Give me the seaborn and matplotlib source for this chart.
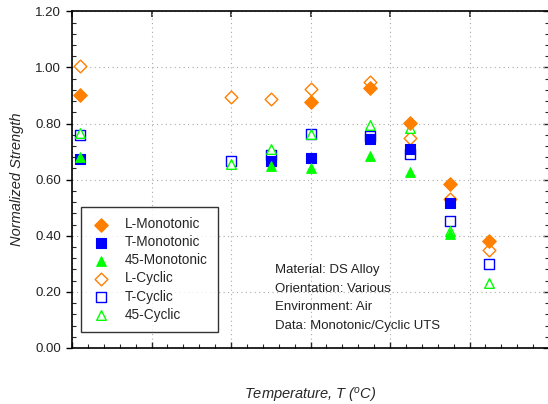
import numpy as np
import pandas as pd
import matplotlib
matplotlib.use("Agg")
import matplotlib.pyplot as plt
import seaborn as sns
from matplotlib.ticker import MultipleLocator, NullFormatter

# ---- data ----
temp_L_mono = [20, 600, 750, 850, 950, 1050]
val_L_mono = [0.903, 0.878, 0.928, 0.803, 0.586, 0.381]

temp_T_mono = [20, 500, 600, 750, 850, 950]
val_T_mono = [0.675, 0.668, 0.677, 0.746, 0.709, 0.518]

temp_45_mono = [20, 500, 600, 750, 850, 950]
val_45_mono = [0.682, 0.650, 0.643, 0.684, 0.627, 0.406]

temp_L_cyc = [20, 400, 500, 600, 750, 850, 950, 1050]
val_L_cyc = [1.006, 0.896, 0.887, 0.923, 0.949, 0.750, 0.530, 0.349]

temp_T_cyc = [20, 400, 500, 600, 750, 850, 950, 1050]
val_T_cyc = [0.759, 0.668, 0.688, 0.762, 0.756, 0.692, 0.453, 0.299]

temp_45_cyc = [20, 400, 500, 600, 750, 850, 950, 1050]
val_45_cyc = [0.765, 0.657, 0.709, 0.764, 0.795, 0.785, 0.418, 0.230]

info_lines = ["Material: DS Alloy", "Orientation: Various",
              "Environment: Air", "Data: Monotonic/Cyclic UTS"]

sns.set_style("white")
plt.rcParams['font.family'] = ['Liberation Sans', 'DejaVu Sans']
plt.rcParams['mathtext.fontset'] = 'custom'
plt.rcParams['mathtext.it'] = 'Liberation Sans:italic'
plt.rcParams['mathtext.rm'] = 'Liberation Sans:italic'

fig = plt.figure(figsize=(5.48, 4.04), dpi=100)
ax = fig.add_axes([72/548, 1-348/404, 477/548, (348-11.3)/404])

ORANGE = '#FF7F00'
BLUE = '#0000FF'
GREEN = '#00FF00'

series = [
    ("L-Cyclic", temp_L_cyc, val_L_cyc, 'D', ORANGE, False, 42),
    ("T-Cyclic", temp_T_cyc, val_T_cyc, 's', BLUE, False, 42),
    ("45-Cyclic", temp_45_cyc, val_45_cyc, '^', GREEN, False, 48),
    ("L-Monotonic", temp_L_mono, val_L_mono, 'D', ORANGE, True, 48),
    ("T-Monotonic", temp_T_mono, val_T_mono, 's', BLUE, True, 42),
    ("45-Monotonic", temp_45_mono, val_45_mono, '^', GREEN, True, 48),
]

for i, (name, xs, ys, mk, col, filled, size) in enumerate(series):
    df = pd.DataFrame({"T": xs, "v": ys})
    if filled:
        sns.scatterplot(data=df, x="T", y="v", ax=ax, marker=mk, s=size,
                        color=col, edgecolor=col, linewidth=0.8, label=name,
                        zorder=5 + i, clip_on=False)
    else:
        sns.scatterplot(data=df, x="T", y="v", ax=ax, marker=mk, s=size,
                        facecolor='white', edgecolor=col, linewidth=1.0,
                        label=name, zorder=5 + i, clip_on=False)

ax.set_xlim(0, 1200)
ax.set_ylim(0, 1.2)
ax.xaxis.set_major_locator(MultipleLocator(200))
ax.xaxis.set_minor_locator(MultipleLocator(40))
ax.yaxis.set_major_locator(MultipleLocator(0.2))
ax.yaxis.set_minor_locator(MultipleLocator(0.04))
ax.xaxis.set_major_formatter(NullFormatter())
ax.yaxis.set_major_formatter(matplotlib.ticker.FormatStrFormatter('%.2f'))

ax.grid(True, which='major', linestyle=(0, (1, 3)), color='#aaaaaa', linewidth=0.8)
ax.set_axisbelow(True)

for s in ['left', 'bottom', 'top']:
    ax.spines[s].set_visible(True)
    ax.spines[s].set_color('black')
    ax.spines[s].set_linewidth(1.2)
ax.spines['right'].set_visible(False)

ax.tick_params(axis='y', which='major', direction='out', length=4, width=1,
               labelsize=9.5, pad=4, left=True, colors='black')
ax.tick_params(axis='y', which='minor', direction='in', length=3, width=0.8, left=True)
ax.tick_params(axis='x', which='major', direction='in', length=4, width=1, bottom=True)
ax.tick_params(axis='x', which='minor', direction='in', length=3, width=0.8, bottom=True)
ax.tick_params(axis='y', labelcolor='#222222')

sec_top = ax.secondary_xaxis('top')
sec_top.xaxis.set_major_locator(MultipleLocator(200))
sec_top.xaxis.set_major_formatter(NullFormatter())
sec_top.tick_params(direction='in', length=4, width=1.2)
sec_top.spines['top'].set_visible(False)

sec_r = ax.secondary_yaxis('right')
sec_r.yaxis.set_major_locator(MultipleLocator(0.2))
sec_r.yaxis.set_minor_locator(MultipleLocator(0.04))
sec_r.yaxis.set_major_formatter(NullFormatter())
sec_r.tick_params(which='major', direction='in', length=4, width=1)
sec_r.tick_params(which='minor', direction='in', length=3, width=0.8)
sec_r.spines['right'].set_visible(False)

ax.set_ylabel("Normalized Strength", fontsize=10.5, style='italic', labelpad=8)
ax.set_xlabel(r"Temperature, T ($^{o}$C)", fontsize=10.5, style='italic', labelpad=24)

handles, labels = ax.get_legend_handles_labels()
order = ["L-Monotonic", "T-Monotonic", "45-Monotonic", "L-Cyclic", "T-Cyclic", "45-Cyclic"]
hmap = dict(zip(labels, handles))
leg = ax.legend([hmap[o] for o in order], order, loc='upper left',
                bbox_to_anchor=(9/477, (348-207)/336.7), fontsize=9.8,
                frameon=True, fancybox=False, edgecolor='black',
                labelspacing=0.3, handletextpad=1.0, borderpad=0.75,
                handlelength=1.5, borderaxespad=0, markerscale=1.0)
leg.get_frame().set_linewidth(1.0)

for i, line in enumerate(info_lines):
    ax.text((275-72)/477, (348-270-i*18.7)/336.7, line, transform=ax.transAxes,
            fontsize=9.5, va='center', ha='left', color='#222222')

fig.savefig("out.png", dpi=100)
